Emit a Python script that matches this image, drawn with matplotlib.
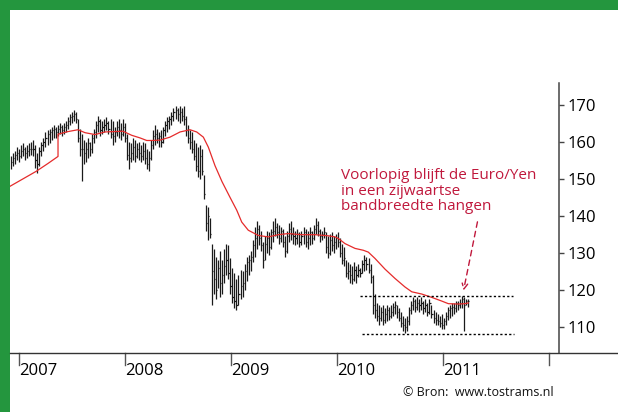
import matplotlib
matplotlib.use("Agg")
import matplotlib.pyplot as plt
from matplotlib.lines import Line2D
from matplotlib.patches import Rectangle
import numpy as np

# ── Colours ──
GREEN = "#24963e"
RED_MA = "#e52b2b"
RED_TXT = "#c0183c"
AXIS = "#444444"
BAR = "#1a1a1a"
FONT = ["Open Sans", "DejaVu Sans"]

# ── Data: weekly EUR/JPY bars, Dec 2006 - Mar 2011 ──
FIRST_WEEK = 2006.926          # decimal year of the first bar
WEEK = 7 / 365.25

highs = [
    156.0, 157.0, 157.5, 158.5, 158.0, 159.0, 159.5, 158.5, 159.0, 159.5,
    160.0, 160.5, 159.0, 157.0, 158.5, 160.0, 161.0, 162.5, 163.0, 163.5,
    164.0, 164.5, 164.0, 164.5, 165.0, 164.5, 165.0, 165.5, 166.5, 167.5,
    168.0, 168.5, 168.0, 166.0, 163.5, 162.0, 160.5, 160.0, 161.0, 160.0,
    162.0, 163.5, 165.5, 167.0, 166.0, 165.5, 166.0, 166.5, 165.5, 166.0,
    165.5, 164.0, 165.5, 166.0, 165.0, 166.0, 165.0, 162.0, 160.0, 159.5,
    161.0, 160.5, 159.5, 160.0, 159.0, 160.0, 159.5, 158.0, 157.5, 160.5,
    163.0, 164.5, 163.5, 162.5, 163.0, 164.0, 165.5, 166.5, 167.0, 168.0,
    169.0, 169.5, 169.0, 169.5, 169.0, 169.5, 167.0, 164.5, 163.0, 162.5,
    160.5, 159.5, 158.5, 159.0, 158.0, 151.0, 143.0, 142.5, 139.5, 132.5,
    131.0, 129.0, 128.0, 130.5, 128.0, 131.0, 132.5, 132.0, 128.5, 126.0,
    124.5, 123.0, 124.0, 125.5, 125.0, 127.0, 129.0, 129.5, 130.5, 133.5,
    137.0, 138.5, 137.5, 136.0, 133.0, 134.5, 136.0, 135.5, 136.5, 138.5,
    139.5, 138.0, 137.5, 137.0, 136.5, 134.5, 136.0, 138.0, 138.5, 137.0,
    136.0, 136.5, 135.5, 136.0, 137.0, 136.5, 136.0, 137.0, 136.0, 137.5,
    139.5, 138.5, 136.5, 136.0, 137.0, 135.5, 134.5, 135.0, 135.5, 134.5,
    135.0, 135.5, 134.0, 132.5, 131.5, 128.0, 127.5, 127.0, 126.5, 127.5,
    126.5, 127.0, 126.0, 128.0, 129.5, 129.0, 128.5, 127.0, 124.0, 119.0,
    116.5, 116.0, 115.5, 116.0, 115.0, 116.0, 115.5, 116.0, 116.5, 117.0,
    116.0, 115.0, 114.0, 113.0, 112.5, 113.0, 115.5, 117.0, 118.0, 117.5,
    118.0, 117.5, 118.0, 117.0, 117.5, 116.5, 117.5, 116.0, 114.5, 114.0,
    113.5, 113.0, 113.5, 112.5, 114.0, 115.5, 116.0, 116.5, 116.5, 117.0,
    117.0, 117.5, 118.5, 118.0, 117.5, 117.5,
]
lows = [
    152.5, 153.5, 154.0, 155.0, 154.5, 155.5, 156.0, 155.0, 155.5, 156.0,
    156.5, 156.0, 153.0, 151.5, 153.5, 156.0, 157.5, 158.5, 159.0, 159.5,
    160.5, 161.0, 161.0, 161.5, 162.0, 161.5, 162.0, 162.5, 163.5, 164.5,
    165.0, 165.5, 165.0, 160.0, 156.0, 149.5, 154.0, 154.5, 155.5, 156.0,
    157.0, 159.5, 161.0, 162.5, 161.5, 162.0, 162.5, 163.0, 162.0, 161.0,
    159.0, 160.0, 161.5, 161.0, 160.5, 161.5, 160.0, 155.0, 152.5, 154.5,
    155.0, 154.5, 155.5, 155.0, 154.5, 155.0, 154.0, 152.5, 152.0, 155.0,
    158.0, 159.0, 159.5, 158.5, 158.5, 159.5, 161.5, 162.5, 163.5, 164.5,
    165.5, 166.0, 165.5, 165.0, 165.5, 164.5, 161.5, 159.5, 158.0, 157.0,
    155.0, 152.0, 150.5, 150.0, 151.0, 144.5, 136.0, 133.5, 134.0, 116.0,
    119.0, 117.5, 120.5, 118.0, 119.0, 122.0, 124.0, 123.0, 119.0, 116.5,
    115.0, 114.5, 116.0, 117.5, 118.0, 120.0, 122.5, 124.0, 125.0, 127.5,
    129.0, 131.0, 132.0, 130.5, 126.0, 128.0, 130.0, 129.5, 131.0, 133.0,
    134.5, 134.0, 132.5, 133.0, 131.5, 129.0, 130.0, 133.0, 133.5, 132.5,
    132.0, 132.5, 131.5, 132.0, 132.5, 131.5, 131.0, 132.0, 132.5, 133.5,
    135.0, 134.5, 133.0, 133.5, 134.0, 130.0, 128.5, 129.5, 130.5, 130.0,
    131.0, 131.5, 129.0, 127.0, 126.5, 123.5, 123.0, 122.0, 121.5, 122.5,
    122.0, 123.5, 123.5, 124.5, 125.0, 125.5, 124.5, 122.0, 113.5, 112.5,
    111.5, 110.5, 111.5, 110.5, 111.0, 111.5, 112.0, 112.5, 113.0, 113.5,
    112.5, 111.5, 110.0, 109.0, 108.5, 109.0, 110.5, 113.5, 114.5, 114.0,
    114.5, 114.0, 114.5, 113.5, 114.0, 113.0, 113.5, 112.5, 111.0, 110.5,
    110.5, 110.0, 109.5, 109.5, 110.5, 112.0, 112.5, 113.0, 113.5, 114.0,
    114.5, 115.0, 115.0, 109.0, 116.0, 115.5,
]
closes = [
    154.5, 155.5, 156.5, 157.0, 156.0, 157.5, 158.0, 157.0, 157.5, 158.0,
    158.0, 158.0, 155.0, 154.0, 157.5, 159.0, 160.0, 161.0, 162.0, 162.5,
    163.0, 163.5, 162.5, 163.5, 164.0, 163.0, 164.0, 164.5, 165.5, 166.5,
    167.0, 167.5, 166.0, 161.0, 158.0, 158.0, 157.0, 158.0, 159.5, 158.0,
    161.0, 162.5, 164.5, 165.5, 163.0, 164.0, 164.5, 165.0, 163.5, 162.0,
    161.5, 162.5, 164.0, 163.0, 162.0, 164.0, 161.0, 156.5, 155.5, 157.0,
    158.5, 156.0, 158.0, 157.0, 156.0, 157.5, 155.5, 154.0, 155.5, 159.0,
    161.5, 162.0, 161.0, 161.5, 160.0, 163.0, 164.5, 165.5, 166.0, 167.0,
    168.0, 168.5, 167.5, 168.0, 167.0, 166.0, 163.0, 161.0, 160.0, 158.0,
    156.0, 153.5, 152.0, 156.0, 152.0, 146.0, 138.0, 140.0, 135.0, 125.0,
    123.0, 120.0, 126.0, 122.0, 124.0, 126.5, 128.0, 124.5, 121.0, 118.0,
    117.0, 116.0, 119.0, 121.0, 122.0, 125.0, 127.5, 128.0, 129.0, 132.0,
    134.0, 136.5, 134.0, 132.0, 128.0, 132.5, 134.0, 131.5, 135.5, 136.0,
    137.0, 135.5, 134.0, 136.0, 133.0, 130.5, 134.5, 136.5, 135.0, 134.5,
    134.0, 135.0, 133.0, 134.5, 135.5, 133.0, 134.0, 135.5, 134.0, 136.5,
    137.5, 136.0, 134.5, 135.0, 135.5, 131.5, 130.0, 133.5, 132.0, 133.0,
    134.0, 133.0, 130.0, 128.0, 128.5, 124.5, 125.0, 124.0, 123.0, 125.5,
    124.0, 125.5, 124.5, 127.0, 128.0, 127.0, 125.5, 123.5, 116.0, 114.5,
    113.0, 112.5, 114.0, 112.0, 113.5, 114.5, 113.0, 114.0, 115.5, 116.0,
    114.0, 112.5, 111.0, 110.5, 110.0, 111.5, 114.5, 116.0, 117.0, 115.5,
    116.5, 116.0, 116.5, 115.0, 116.0, 114.0, 116.5, 113.5, 112.5, 112.0,
    111.5, 111.0, 110.5, 111.5, 113.0, 114.5, 115.0, 115.5, 115.0, 116.5,
    116.0, 116.5, 117.5, 116.0, 117.0, 117.0,
]

# moving average as drawn on the chart (note the jump in 2007)
ma_years = [
    2006.914, 2007.165, 2007.275, 2007.370, 2007.370, 2007.464, 2007.558,
    2007.625, 2007.719, 2007.813, 2007.983, 2008.065, 2008.143, 2008.207,
    2008.254, 2008.332, 2008.426, 2008.521, 2008.615, 2008.678, 2008.741,
    2008.788, 2008.851, 2008.917, 2008.992, 2009.056, 2009.103, 2009.165,
    2009.259, 2009.354, 2009.448, 2009.542, 2009.669, 2009.794, 2009.920,
    2009.983, 2010.014, 2010.077, 2010.172, 2010.250, 2010.297, 2010.360,
    2010.455, 2010.549, 2010.643, 2010.707, 2010.801, 2010.895, 2010.990,
    2011.052, 2011.146, 2011.209, 2011.241,
]
ma_values = [
    147.9, 152.0, 154.1, 156.0, 162.0, 162.7, 163.2,
    162.4, 161.9, 162.6, 162.8, 161.7, 161.0, 160.3,
    160.3, 160.4, 161.2, 162.6, 163.2, 162.6, 161.2,
    158.5, 153.5, 149.2, 145.0, 141.5, 138.3, 136.1,
    134.7, 134.3, 134.9, 135.2, 134.9, 134.9, 134.6,
    134.3, 133.9, 132.5, 131.2, 130.7, 130.2, 128.5,
    125.6, 123.1, 120.8, 119.5, 118.9, 118.0, 117.0,
    116.3, 116.2, 116.3, 116.5,
]

# sideways band (resistance / support)
band_levels = [118.4, 108.1]
band_start = [2010.218, 2010.235]
band_end = [2011.659, 2011.672]

year_ticks = [2007, 2008, 2009, 2010, 2011, 2012]
year_labels = ["2007", "2008", "2009", "2010", "2011", ""]
price_ticks = [110, 120, 130, 140, 150, 160, 170]

# ── Figure ──
W, H = 618, 412
fig = plt.figure(figsize=(W / 100, H / 100), dpi=100, facecolor="white")

# green frame (left + top)
fig.add_artist(Rectangle((0, 0), 10 / W, 1, transform=fig.transFigure,
                         facecolor=GREEN, edgecolor="none"))
fig.add_artist(Rectangle((0, 1 - 10 / H), 1, 10 / H, transform=fig.transFigure,
                         facecolor=GREEN, edgecolor="none"))

ax = fig.add_axes([10 / W, (H - 353) / H, 549 / W, 270 / H])
ax.set_facecolor("none")
ax.set_xlim(2006.917, 2012.096)
ax.set_ylim(103.0, 175.8)

for side in ("top", "left", "bottom"):
    ax.spines[side].set_visible(False)
ax.spines["right"].set_color(AXIS)
ax.spines["right"].set_linewidth(1.1)

# bottom axis line runs past the right spine to the edge
fig.add_artist(Line2D([10 / W, 1], [(H - 353) / H] * 2, transform=fig.transFigure,
                      color="#333333", linewidth=1.0))

# ── OHLC bars ──
x = FIRST_WEEK + np.arange(len(highs)) * WEEK
ax.vlines(x, lows, highs, color=BAR, linewidth=0.9)
ax.hlines(closes, x, x + 0.6 * WEEK, color=BAR, linewidth=0.9)

# moving average
ax.plot(ma_years, ma_values, color=RED_MA, linewidth=0.9)

# band lines
for lvl, x0, x1 in zip(band_levels, band_start, band_end):
    ax.plot([x0, x1], [lvl, lvl], color="black", linewidth=1.0,
            linestyle=(0, (1.6, 1.6)))

# ── Y axis (right) ──
ax.yaxis.tick_right()
ax.set_yticks(price_ticks)
ax.set_yticklabels([str(t) for t in price_ticks], fontsize=12, family=FONT)
ax.tick_params(axis="y", direction="out", length=3.5, width=1.0,
               color=AXIS, pad=2.5)

# ── X axis: year ticks hanging below the line, labels to the right ──
ax.set_xticks([])
for yr, lab in zip(year_ticks, year_labels):
    ax.plot([yr, yr], [0, -0.045], transform=ax.get_xaxis_transform(),
            color="#555555", linewidth=1.0, clip_on=False)
    if lab:
        ax.annotate(lab, xy=(yr, 0), xycoords=("data", "axes fraction"),
                    xytext=(0.3, -7), textcoords="offset points",
                    ha="left", va="top", fontsize=12, family=FONT)

# ── Annotation ──
fig.text(341 / W, 1 - 168 / H,
         "Voorlopig blijft de Euro/Yen\nin een zijwaartse\nbandbreedte hangen",
         color=RED_TXT, fontsize=11, family=FONT, ha="left", va="top",
         linespacing=1.05)
ax.annotate("", xy=(2011.19, 119.1), xytext=(2011.332, 139.1),
            arrowprops=dict(arrowstyle="->", color=RED_TXT, lw=1.0,
                            linestyle=(0, (4, 3)), mutation_scale=10))

fig.text(403 / W, 1 - 393 / H, "\u00a9 Bron:  www.tostrams.nl",
         fontsize=9, family=FONT, ha="left", va="center", color="#111111")

fig.savefig("out.png", dpi=100, facecolor="white")
